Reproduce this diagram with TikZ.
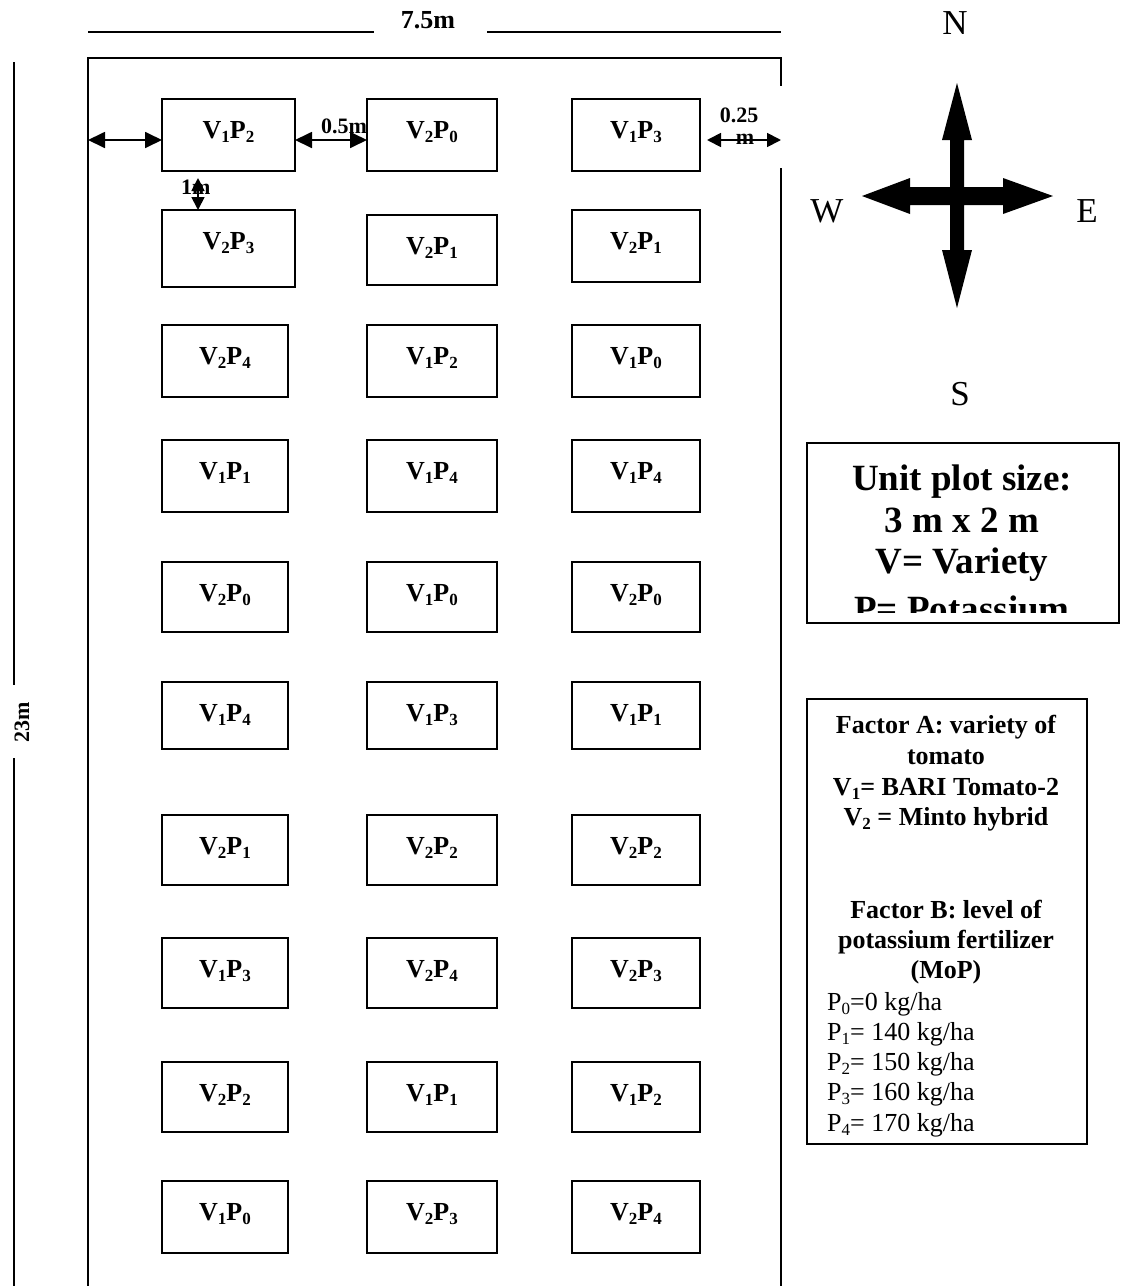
\documentclass[tikz,border=0pt]{standalone}
\usepackage{fontspec}
\setmainfont{Liberation Serif}
\usetikzlibrary{arrows.meta}
\newcommand\sbs[1]{\raisebox{-0.16em}{\fontsize{17}{17}\selectfont #1}}
\newcommand\pb[7]{%
  \node[plotbox, minimum width={#4-#2}, minimum height={#5-#3}] (#1) at ({(#2+#4)/2},{(#3+#5)/2}) {};
  \node[plotlab] (#1t) at ({(#2+#4)/2},{#3+39}) {V\sbs{#6}P\sbs{#7}};}
\begin{document}
\begin{tikzpicture}[x=1pt,y=-1pt,
  plotbox/.style={draw, line width=1.6pt, fill=white, inner sep=0pt, outer sep=0pt},
  plotlab/.style={font=\fontsize{26}{30}\selectfont\bfseries, anchor=base, inner sep=0pt},
  dimlab/.style={font=\fontsize{22}{24}\selectfont\bfseries, anchor=base, inner sep=0pt},
  dimarr/.style={line width=1.8pt, {Triangle[length=17pt,width=16pt]}-{Triangle[length=17pt,width=16pt]}},
  smallarr/.style={line width=1.8pt, {Triangle[length=13pt,width=13pt]}-{Triangle[length=13pt,width=13pt]}},
  dimline/.style={line width=1.5pt},
  compass/.style={font=\fontsize{35}{38}\selectfont, anchor=base, inner sep=0pt},
  legbold/.style={font=\fontsize{37}{42}\selectfont\bfseries, anchor=base, inner sep=0pt},
  legA/.style={font=\fontsize{26}{30}\selectfont\bfseries, anchor=base, inner sep=0pt},
  legB/.style={font=\fontsize{26}{30}\selectfont, anchor=base west, inner sep=0pt},
  legbox/.style={draw, line width=1.6pt, inner sep=0pt}
]
\useasboundingbox (0,0) rectangle (1128,1286);

% overall dimensions
\node[plotlab] (w75) at (428,28) {7.5m};
\coordinate (tl1) at (88,32); \coordinate (tl2) at (374,32);
\coordinate (tr1) at (487,32); \coordinate (tr2) at (781,32);
\draw[dimline] (tl1) -- (tl2);
\draw[dimline] (tr1) -- (tr2);
\node[rotate=90, font=\fontsize{22}{24}\selectfont\bfseries, inner sep=0pt] (h23) at (22,722) {23m};
\coordinate (lv1) at (14,62); \coordinate (lv2) at (14,685);
\coordinate (lv3) at (14,758); \coordinate (lv4) at (14,1290);
\draw[dimline] (lv1) -- (lv2);
\draw[dimline] (lv3) -- (lv4);

% field outline
\coordinate (f1) at (88,1290); \coordinate (f2) at (88,58);
\coordinate (f3) at (781,58); \coordinate (f4) at (781,86);
\coordinate (f5) at (781,168); \coordinate (f6) at (781,1290);
\draw[line width=1.8pt] (f1) -- (f2) -- (f3) -- (f4);
\draw[line width=1.8pt] (f5) -- (f6);

% spacing labels placed below boxes
\node[dimlab, anchor=base west] (sp05) at (321,133) {0.5m};
\node[dimlab] (sp025a) at (739,122) {0.25};
\node[dimlab] (sp025b) at (745,144) {m};
\node[dimlab, anchor=base west] (sp1) at (181,194) {1m};

% plots
\pb{r1c1}{162}{99}{295}{171}{1}{2}
\pb{r1c2}{367}{99}{497}{171}{2}{0}
\pb{r1c3}{572}{99}{700}{171}{1}{3}
\pb{r2c1}{162}{210}{295}{287}{2}{3}
\pb{r2c2}{367}{215}{497}{285}{2}{1}
\pb{r2c3}{572}{210}{700}{282}{2}{1}
\pb{r3c1}{162}{325}{288}{397}{2}{4}
\pb{r3c2}{367}{325}{497}{397}{1}{2}
\pb{r3c3}{572}{325}{700}{397}{1}{0}
\pb{r4c1}{162}{440}{288}{512}{1}{1}
\pb{r4c2}{367}{440}{497}{512}{1}{4}
\pb{r4c3}{572}{440}{700}{512}{1}{4}
\pb{r5c1}{162}{562}{288}{632}{2}{0}
\pb{r5c2}{367}{562}{497}{632}{1}{0}
\pb{r5c3}{572}{562}{700}{632}{2}{0}
\pb{r6c1}{162}{682}{288}{749}{1}{4}
\pb{r6c2}{367}{682}{497}{749}{1}{3}
\pb{r6c3}{572}{682}{700}{749}{1}{1}
\pb{r7c1}{162}{815}{288}{885}{2}{1}
\pb{r7c2}{367}{815}{497}{885}{2}{2}
\pb{r7c3}{572}{815}{700}{885}{2}{2}
\pb{r8c1}{162}{938}{288}{1008}{1}{3}
\pb{r8c2}{367}{938}{497}{1008}{2}{4}
\pb{r8c3}{572}{938}{700}{1008}{2}{3}
\pb{r9c1}{162}{1062}{288}{1132}{2}{2}
\pb{r9c2}{367}{1062}{497}{1132}{1}{1}
\pb{r9c3}{572}{1062}{700}{1132}{1}{2}
\pb{r10c1}{162}{1181}{288}{1253}{1}{0}
\pb{r10c2}{367}{1181}{497}{1253}{2}{3}
\pb{r10c3}{572}{1181}{700}{1253}{2}{4}

% spacing arrows
\coordinate (a1) at (88,140);
\draw[dimarr] (a1) -- (a1 -| r1c1.west);
\coordinate (a2) at (295,140);
\draw[dimarr] (a2) -- (a2 -| r1c2.west);
\coordinate (a3) at (707,140); \coordinate (a4) at (781,140);
\draw[line width=1.8pt, {Triangle[length=14pt,width=14pt]}-{Triangle[length=14pt,width=14pt]}] (a3) -- (a4);
\coordinate (v1) at (198,178);
\draw[smallarr] (v1) -- (v1 |- r2c1.north);

% compass
\fill (957,83) -- (972,140) -- (964,140) -- (964,187) -- (1003,187) -- (1003,178)
  -- (1053,196) -- (1003,214) -- (1003,205) -- (964,205) -- (964,250) -- (972,250)
  -- (957,308) -- (942,250) -- (950,250) -- (950,205) -- (910,205) -- (910,214)
  -- (862,196) -- (910,178) -- (910,187) -- (950,187) -- (950,140) -- (942,140) -- cycle;
\node[compass] (cN) at (955,34) {N};
\node[compass] (cW) at (827,222) {W};
\node[compass] (cE) at (1087,222) {E};
\node[compass] (cS) at (960,405) {S};

% legend 1
\begin{scope}
\clip (807,443) rectangle (1119,612);
\node[legbold] (l1a) at (962,490) {Unit plot size:};
\node[legbold] (l1b) at (962,532) {3 m x 2 m};
\node[legbold] (l1c) at (962,573) {V= Variety};
\node[legbold] (l1d) at (962,621) {P= Potassium};
\end{scope}
\node[legbox, minimum width=312, minimum height=180] (leg1) at (963,533) {};

% legend 2
\node[legA] (l2a) at (946,733) {Factor A: variety of};
\node[legA] (l2b) at (946,764) {tomato};
\node[legA] (l2c) at (946,795) {V\sbs{1}= BARI Tomato-2};
\node[legA] (l2d) at (946,825) {V\sbs{2} = Minto hybrid};
\node[legA] (l2e) at (946,918) {Factor B: level of};
\node[legA] (l2f) at (946,948) {potassium fertilizer};
\node[legA] (l2g) at (946,978) {(MoP)};
\node[legB] (l2h) at (827,1010) {P\sbs{0}=0 kg/ha};
\node[legB] (l2i) at (827,1040) {P\sbs{1}= 140 kg/ha};
\node[legB] (l2j) at (827,1070) {P\sbs{2}= 150 kg/ha};
\node[legB] (l2k) at (827,1100) {P\sbs{3}= 160 kg/ha};
\begin{scope}
\clip (807,1105) rectangle (1087,1136);
\node[legB] (l2l) at (827,1131) {P\sbs{4}= 170 kg/ha};
\end{scope}
\node[legbox, minimum width=280, minimum height=445] (leg2) at (947,921.5) {};
\end{tikzpicture}
\end{document}
